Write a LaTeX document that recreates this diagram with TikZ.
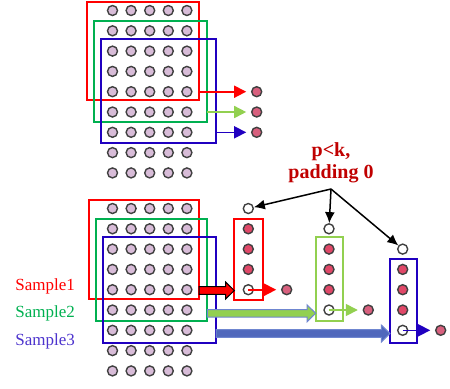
\documentclass[tikz,border=0pt]{standalone}
\usepackage{fontspec}
\setmainfont{Liberation Serif}
\usetikzlibrary{arrows.meta, calc}
\definecolor{dotfill}{HTML}{D8BCD8}
\definecolor{dotline}{HTML}{404040}
\definecolor{hotfill}{HTML}{E04868}
\definecolor{outfill}{HTML}{D8607E}
\definecolor{grn}{HTML}{00B050}
\definecolor{lgrn}{HTML}{92D050}
\definecolor{blu}{HTML}{2000C0}
\definecolor{fatblu}{HTML}{5068BC}
\definecolor{fatline}{HTML}{6F86D0}
\definecolor{pkred}{HTML}{C00000}

\begin{document}
\begin{tikzpicture}[x=0.5pt, y=-0.5pt,
  dot/.style={circle, draw=dotline, line width=0.7pt, minimum size=5pt, inner sep=0pt},
  plaindot/.style={dot, fill=dotfill},
  hotdot/.style={dot, fill=hotfill},
  outdot/.style={dot, fill=outfill},
  holedot/.style={dot, fill=white},
  boxline/.style={line width=1pt},
  thinarrow/.style={line width=0.8pt, -{Triangle[length=6pt, width=6pt]}, shorten >=2.4pt},
  pointer/.style={line width=0.75pt, -{Latex[length=5.5pt, width=5pt]}},
  fatarrow/.style={line width=0.5pt, to path={let \p1=(\tikztostart), \p2=(\tikztotarget) in
    (\x1,\y1+1.9pt) -- (\x2-4.3pt,\y1+1.9pt) -- (\x2-4.3pt,\y1+4.2pt) -- (\x2,\y1)
    -- (\x2-4.3pt,\y1-4.2pt) -- (\x2-4.3pt,\y1-1.9pt) -- (\x1,\y1-1.9pt) -- cycle}},
  samplefont/.style={font=\fontsize{8.5}{10}\selectfont, anchor=base west, inner sep=0pt}]
\useasboundingbox (0,0) rectangle (450,388);

% upper input grid
\foreach \r in {0,...,8}
  \foreach \c in {0,...,4}
    \node[plaindot] (t-\r-\c) at (112.5+18.6*\c, 10.5+20.3*\r) {};
\draw[boxline, red] (87.3,1.7) rectangle (199,100);
\draw[boxline, grn] (94,20.7) rectangle (207.3,121.7);
\draw[boxline, blu] (101.3,39.3) rectangle (216,143.3);

\coordinate (tr) at (199,91.7);
\coordinate (tg) at (207.3,112);
\coordinate (tb) at (216,132.3);
\node[outdot] (to1) at (256.7,91.7) {};
\node[outdot] (to2) at (256.7,112) {};
\node[outdot] (to3) at (256.7,132.3) {};
\draw[thinarrow, red] (tr) -- (to1);
\draw[thinarrow, lgrn] (tg) -- (to2);
\draw[thinarrow, blu] (tb) -- (to3);

% lower input grid
\foreach \r in {0,...,8}
  \foreach \c in {0,...,4}
    \node[plaindot] (b-\r-\c) at (112.5+18.6*\c, 208.5+20.3*\r) {};
\draw[boxline, red] (89,200) rectangle (199,299);
\draw[boxline, grn] (95.7,219.3) rectangle (207.3,320.7);
\draw[boxline, blu] (102.7,237.3) rectangle (216,342.7);

\node[samplefont, text=red] (s1) at (15,290) {Sample1};
\node[samplefont, text=grn] (s2) at (15,317.7) {Sample2};
\node[samplefont, text=blu!80!white] (s3) at (15,345) {Sample3};

% padded output columns
\foreach \k/\x/\s in {1/248.3/0, 2/329/1, 3/402.7/2} {
  \node[holedot] (c\k-0) at (\x, 208.5+20.3*\s) {};
  \foreach \i in {1,2,3}
    \node[hotdot] (c\k-\i) at (\x, 208.5+20.3*\s+20.3*\i) {};
  \node[holedot] (c\k-4) at (\x, 208.5+20.3*\s+81.2) {};
}
\draw[boxline, red] (234.3,219) rectangle (262.7,300);
\draw[boxline, lgrn] (315.7,237.3) rectangle (342.7,321);
\draw[boxline, blu] (390,259.3) rectangle (416.7,342.7);

\coordinate (r-s) at (199,290.5);
\coordinate (r-e) at (234.3,290.5);
\coordinate (g-s) at (207.3,313.3);
\coordinate (g-e) at (315.7,313.3);
\coordinate (b-s) at (216,333.5);
\coordinate (b-e) at (390,333.5);
\draw[fatarrow, fill=red, draw=black] (r-s) to (r-e);
\draw[fatarrow, fill=lgrn, draw=fatline] (g-s) to (g-e);
\draw[fatarrow, fill=fatblu, draw=fatline] (b-s) to (b-e);

\node[outdot] (o1) at (286.7,289.7) {};
\node[outdot] (o2) at (368.3,310) {};
\node[outdot] (o3) at (440.7,330.3) {};
\draw[thinarrow, red] (c1-4.center) -- (o1);
\draw[thinarrow, lgrn] (c2-4.center) -- (o2);
\draw[thinarrow, blu] (c3-4.center) -- (o3);

% padding note
\node[font=\fontsize{10}{10.85}\selectfont\bfseries, text=pkred, align=center, inner sep=0pt] (pk) at (331,162.5) {p<k,\\padding 0};
\coordinate (apex) at (331,189);
\draw[pointer] (apex) -- (c1-0);
\draw[pointer] (apex) -- (c2-0);
\draw[pointer] (apex) -- (c3-0);
\end{tikzpicture}
\end{document}
